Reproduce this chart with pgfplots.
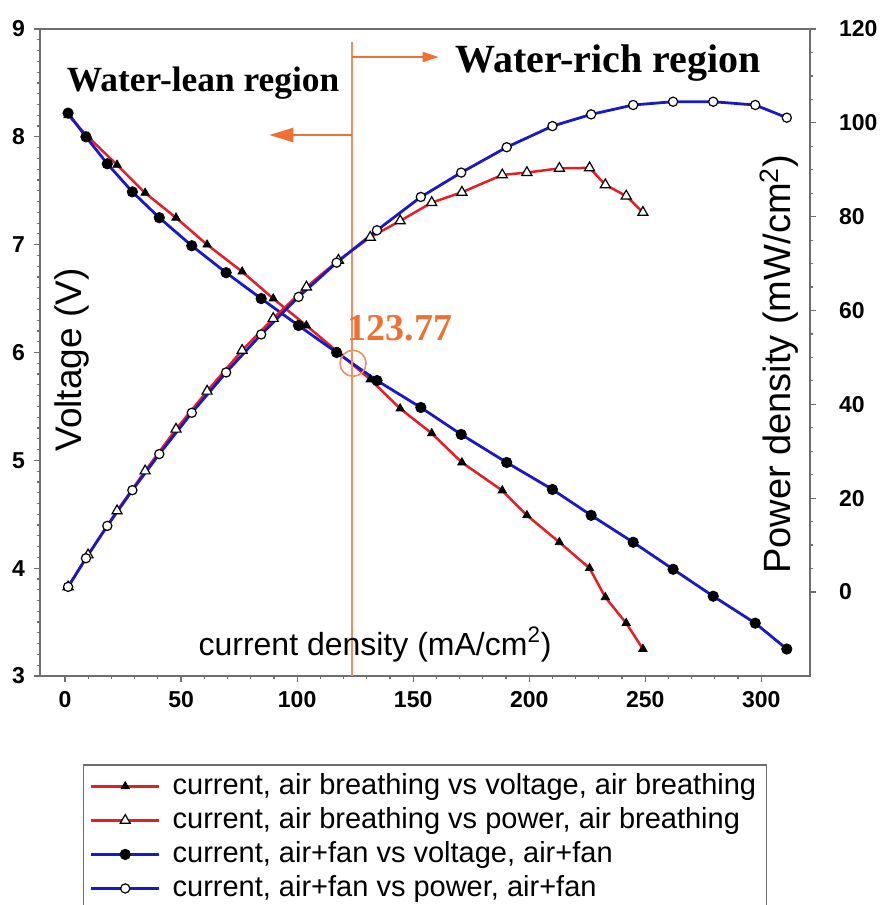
\documentclass[border=0pt]{standalone}
\usepackage{fontspec}
\setmainfont{Liberation Sans}
\newfontfamily\tnr{Liberation Serif}
\usepackage{pgfplots}
\usepackage{pgfplotstable}
\pgfplotsset{compat=1.18}
\usetikzlibrary{arrows.meta}

\definecolor{myred}{RGB}{228,30,36}
\definecolor{myblue}{RGB}{25,25,200}
\definecolor{myorange}{RGB}{238,112,50}
\definecolor{axgray}{RGB}{110,110,110}

\pgfplotstableread{
I V P
1.3 8.20 1.1
9.9 8.00 7.9
22.4 7.74 17.3
34.5 7.48 25.8
47.8 7.25 34.7
61.2 7.00 42.8
76.3 6.75 51.5
89.7 6.50 58.3
104.0 6.25 65.0
117.8 6.00 70.7
131.5 5.75 75.6
144.4 5.48 79.1
158.0 5.25 83.0
171.0 4.98 85.2
188.4 4.72 88.9
199.0 4.49 89.4
213.0 4.24 90.3
226.0 4.00 90.4
232.8 3.73 86.8
241.8 3.49 84.4
249.0 3.25 80.9
}\airb

\pgfplotstableread{
I V P
1.3 8.22 1.1
9.0 8.00 7.2
18.2 7.75 14.1
29.0 7.49 21.7
40.6 7.25 29.4
54.6 6.99 38.2
69.4 6.74 46.8
84.5 6.50 54.9
100.6 6.25 62.9
117.0 6.00 70.2
134.4 5.74 77.1
153.3 5.49 84.2
170.7 5.24 89.4
190.3 4.98 94.8
210.0 4.73 99.3
226.7 4.49 101.8
244.8 4.24 103.8
262.0 3.99 104.5
279.3 3.74 104.5
297.4 3.49 103.8
311.0 3.25 101.1
}\airfan

\pgfplotsset{
  common/.style={
    scale only axis, width=385pt, height=323.5pt,
    xmin=-10.8, xmax=321,
    tick align=outside, major tick length=3pt, minor tick length=1.6pt,
    every tick/.style={axgray, line width=0.6pt},
    axis line style={axgray, line width=0.9pt},
    tick label style={font=\bfseries\fontsize{11.5}{12}\selectfont},
    /pgf/number format/assume math mode=true,
    clip=false,
  },
  redV/.style={myred, line width=1.25pt, mark=triangle*, mark size=2.4pt, mark options={fill=black, draw=black, line width=0.4pt}},
  redP/.style={myred, line width=1.25pt, mark=triangle*, mark size=2.9pt, mark options={fill=white, draw=black, line width=0.6pt}},
  blueV/.style={myblue, line width=1.4pt, mark=*, mark size=2.6pt, mark options={fill=black, draw=black, line width=0.4pt}},
  blueP/.style={myblue, line width=1.4pt, mark=*, mark size=2.3pt, mark options={fill=white, draw=black, line width=0.6pt}},
}

\begin{document}
\begin{tikzpicture}
\path[use as bounding box] (-20pt,-114.5pt) rectangle (423pt,338pt);

\begin{axis}[common,
  ymin=3, ymax=9,
  xtick={0,50,...,300}, minor x tick num=4,
  ytick={3,...,9}, minor y tick num=9,
  xtick pos=left, ytick pos=left,
  yticklabel style={xshift=-1pt},
  xticklabel style={yshift=-1pt},
]
\addplot[redV] table[x=I,y=V] {\airb};
\addplot[blueV] table[x=I,y=V] {\airfan};

% annotations
\draw[myorange!80, line width=0.8pt] (axis cs:123.77,8.88) -- (axis cs:123.77,3);
\draw[myorange, line width=0.8pt, -{Triangle[length=8pt,width=5pt]}] (axis cs:123.77,8.74) -- (axis cs:161,8.74);
\draw[myorange, line width=1.3pt, -{Triangle[length=12pt,width=7pt]}] (axis cs:123.77,8.017) -- (axis cs:88,8.017);
\draw[myorange!80, line width=0.8pt] (axis cs:124.1,5.90) circle[radius=6.5pt];
\node[font=\tnr\bfseries\fontsize{19}{20}\selectfont, text=myorange] at (axis cs:144.4,6.23) {123.77};
\node[font=\tnr\bfseries\fontsize{17.7}{19}\selectfont] at (axis cs:59.5,8.50) {Water-lean region};
\node[font=\tnr\bfseries\fontsize{20}{22}\selectfont] at (axis cs:234,8.68) {Water-rich region};

\node[font=\fontsize{16}{18}\selectfont] at (axis cs:133.6,3.29) {current density (mA/cm\textsuperscript{2})};
\node[rotate=90, font=\fontsize{18.5}{20}\selectfont] at (axis cs:3.0,5.93) {Voltage (V)};
\node[rotate=90, font=\fontsize{19}{21}\selectfont] at (axis cs:307.8,5.89) {Power density (mW/cm\textsuperscript{2})};
\end{axis}

\begin{axis}[common,
  ymin=-17.9, ymax=120,
  axis x line=none, axis y line*=right,
  ytick={0,20,...,120}, minor y tick num=3,
  yticklabel style={anchor=west, xshift=8pt},
  legend style={at={(rel axis cs:0.5,-0.1376)}, anchor=north, name=leg,
    draw=axgray, font=\fontsize{14.5}{17}\selectfont,
    nodes={inner ysep=1.5pt, text height=11pt, text depth=3pt},
    /tikz/every odd column/.append style={column sep=4pt},
    row sep=0pt},
  legend cell align=left,
  legend image code/.code={\draw[mark repeat=2,mark phase=2] plot coordinates {(0pt,0pt) (17pt,0pt) (34pt,0pt)};},
]
\addlegendimage{redV}
\addlegendentry{current, air breathing vs voltage, air breathing}
\addplot[redP] table[x=I,y=P] {\airb};
\addlegendentry{current, air breathing vs power, air breathing}
\addlegendimage{blueV}
\addlegendentry{current, air+fan vs voltage, air+fan}
\addplot[blueP] table[x=I,y=P] {\airfan};
\addlegendentry{current, air+fan vs power, air+fan}
\end{axis}
\draw[axgray, line width=0.8pt] (leg.south west) rectangle (leg.north east);
\end{tikzpicture}
\end{document}
